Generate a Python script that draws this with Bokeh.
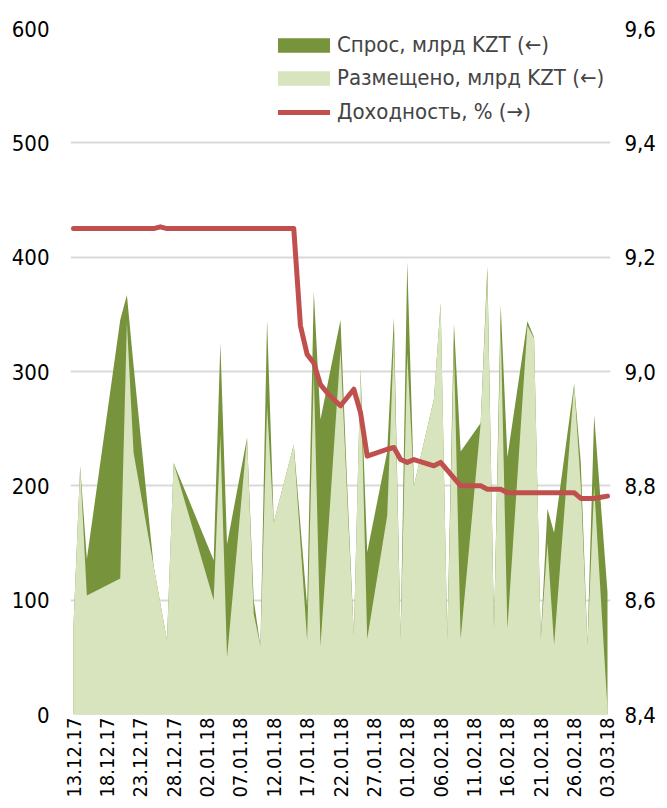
import math
import pandas as pd
from bokeh.plotting import figure
from bokeh.models import (Range1d, LinearAxis, FixedTicker, DatetimeTickFormatter,
                          CustomJSTickFormatter, Legend, LegendItem)
from bokeh.embed import file_html
from bokeh.resources import INLINE

# ---- data ----
area_dates = ["13.12.17", "14.12.17", "15.12.17", "20.12.17", "21.12.17", "22.12.17",
              "25.12.17", "27.12.17", "28.12.17", "03.01.18", "04.01.18", "05.01.18",
              "08.01.18", "09.01.18", "10.01.18", "11.01.18", "12.01.18", "15.01.18",
              "17.01.18", "18.01.18", "19.01.18", "22.01.18", "23.01.18", "24.01.18",
              "25.01.18", "26.01.18", "29.01.18", "30.01.18", "31.01.18", "01.02.18",
              "02.02.18", "05.02.18", "06.02.18", "07.02.18", "08.02.18", "09.02.18",
              "12.02.18", "13.02.18", "14.02.18", "15.02.18", "16.02.18", "19.02.18",
              "20.02.18", "21.02.18", "22.02.18", "23.02.18", "26.02.18", "27.02.18",
              "28.02.18", "01.03.18", "03.03.18"]
demand = [78, 217, 136, 345, 367, 305,
          130, 65, 220, 135, 325, 149,
          242, 100, 60, 345, 168, 236,
          95, 370, 258, 345, 200, 69,
          302, 142, 230, 347, 66, 396,
          200, 276, 360, 66, 342, 230,
          255, 392, 75, 358, 225, 344,
          330, 66, 180, 159, 289, 220,
          61, 262, 107]
placed = [78, 217, 104, 119, 343, 229,
          130, 65, 220, 100, 245, 50,
          242, 88, 60, 270, 168, 236,
          65, 300, 60, 319, 190, 69,
          302, 66, 174, 331, 66, 316,
          200, 276, 360, 66, 320, 66,
          255, 385, 75, 340, 75, 340,
          329, 66, 150, 61, 289, 200,
          61, 200, 5]

yield_dates = ["13.12.17", "25.12.17", "26.12.17", "27.12.17", "15.01.18", "16.01.18",
               "17.01.18", "18.01.18", "19.01.18", "20.01.18", "21.01.18", "22.01.18",
               "24.01.18", "25.01.18", "26.01.18", "29.01.18", "30.01.18", "31.01.18",
               "01.02.18", "02.02.18", "05.02.18", "06.02.18", "09.02.18", "12.02.18",
               "13.02.18", "15.02.18", "16.02.18", "26.02.18", "27.02.18", "01.03.18",
               "02.03.18", "03.03.18"]
yield_pct = [9.25, 9.25, 9.253, 9.25, 9.25, 9.08,
             9.03, 9.015, 8.977, 8.963, 8.951, 8.94,
             8.969, 8.928, 8.852, 8.864, 8.867, 8.846,
             8.841, 8.846, 8.835, 8.841, 8.80, 8.80,
             8.794, 8.794, 8.788, 8.788, 8.778, 8.778,
             8.78, 8.782]

tick_labels = ["13.12.17", "18.12.17", "23.12.17", "28.12.17", "02.01.18", "07.01.18",
               "12.01.18", "17.01.18", "22.01.18", "27.01.18", "01.02.18", "06.02.18",
               "11.02.18", "16.02.18", "21.02.18", "26.02.18", "03.03.18"]
left_ticks = [0, 100, 200, 300, 400, 500, 600]
right_ticks = [8.4, 8.6, 8.8, 9.0, 9.2, 9.4, 9.6]

series_names = ["Спрос, млрд KZT (←)", "Размещено, млрд KZT (←)", "Доходность, % (→)"]

# ---- build ----
def to_dt(lst):
    return pd.to_datetime(lst, format="%d.%m.%y")

ax = to_dt(area_dates)
yx = to_dt(yield_dates)
tx = to_dt(tick_labels)

day = pd.Timedelta(days=1)
x_start = tx[0] - 0.45 * day
x_end = tx[-1] + 0.45 * day

FONT = "DejaVu Sans Condensed, sans-serif"

p = figure(width=659, height=800, output_backend="svg", toolbar_location=None,
           x_axis_type="datetime",
           x_range=Range1d(x_start, x_end), y_range=Range1d(0, 600),
           min_border_left=70, min_border_right=49, min_border_top=28,
           min_border_bottom=84)
p.outline_line_color = None
p.background_fill_color = "white"
p.border_fill_color = "white"
p.xgrid.visible = False
p.ygrid.grid_line_color = "#D9D9D9"
p.ygrid.grid_line_width = 2
p.ygrid.ticker = FixedTicker(ticks=left_ticks)

p.extra_y_ranges = {"y2": Range1d(8.4, 9.6)}

r_dem = p.varea(x=ax, y1=0, y2=demand, fill_color="#77933C")
r_pl = p.varea(x=ax, y1=0, y2=placed, fill_color="#D7E4BD")
r_y = p.line(x=yx, y=yield_pct, y_range_name="y2", line_color="#C0504D",
             line_width=5, line_join="round", line_cap="round")

# left axis
ya = p.yaxis[0]
ya.ticker = FixedTicker(ticks=left_ticks)
# right axis
ra = LinearAxis(y_range_name="y2", ticker=FixedTicker(ticks=right_ticks),
                formatter=CustomJSTickFormatter(code="return tick.toFixed(1).replace('.', ',');"))
p.add_layout(ra, "right")

xa = p.xaxis[0]
xa.ticker = FixedTicker(ticks=[t.value // 10**6 for t in tx])
fmt = "%d.%m.%y"
xa.formatter = DatetimeTickFormatter(days=fmt, months=fmt, years=fmt, hours=fmt,
                                     hourmin=fmt, minutes=fmt, minsec=fmt,
                                     seconds=fmt, milliseconds=fmt, microseconds=fmt)
xa.major_label_orientation = math.pi / 2

for a in (ya, ra, xa):
    a.axis_line_color = None
    a.major_tick_line_color = None
    a.minor_tick_line_color = None
    a.major_tick_out = 0
    a.major_tick_in = 0
    a.minor_tick_out = 0
    a.major_label_text_font = FONT
    a.major_label_text_color = "black"
ya.major_label_text_font_size = "22px"
ra.major_label_text_font_size = "22px"
xa.major_label_text_font_size = "20px"
ya.major_label_standoff = 21
ra.major_label_standoff = 14
xa.major_label_standoff = 3


def style_legend(lg):
    lg.background_fill_alpha = 0
    lg.border_line_color = None
    lg.label_text_font = FONT
    lg.label_text_font_size = "22px"
    lg.padding = 0
    lg.margin = 0
    lg.spacing = 8


# area swatches (Bokeh draws them at 80% of the glyph box)
legend_a = Legend(items=[LegendItem(label=series_names[0], renderers=[r_dem]),
                         LegendItem(label=series_names[1], renderers=[r_pl])],
                  location=(201, 624))
style_legend(legend_a)
legend_a.glyph_width = 65
legend_a.glyph_height = 18
legend_a.label_standoff = 1
p.add_layout(legend_a)

legend_l = Legend(items=[LegendItem(label=series_names[2], renderers=[r_y])],
                  location=(208, 590))
style_legend(legend_l)
legend_l.glyph_width = 52
legend_l.glyph_height = 14
legend_l.label_standoff = 7
p.add_layout(legend_l)

open("out.html", "w").write(file_html(p, INLINE))
